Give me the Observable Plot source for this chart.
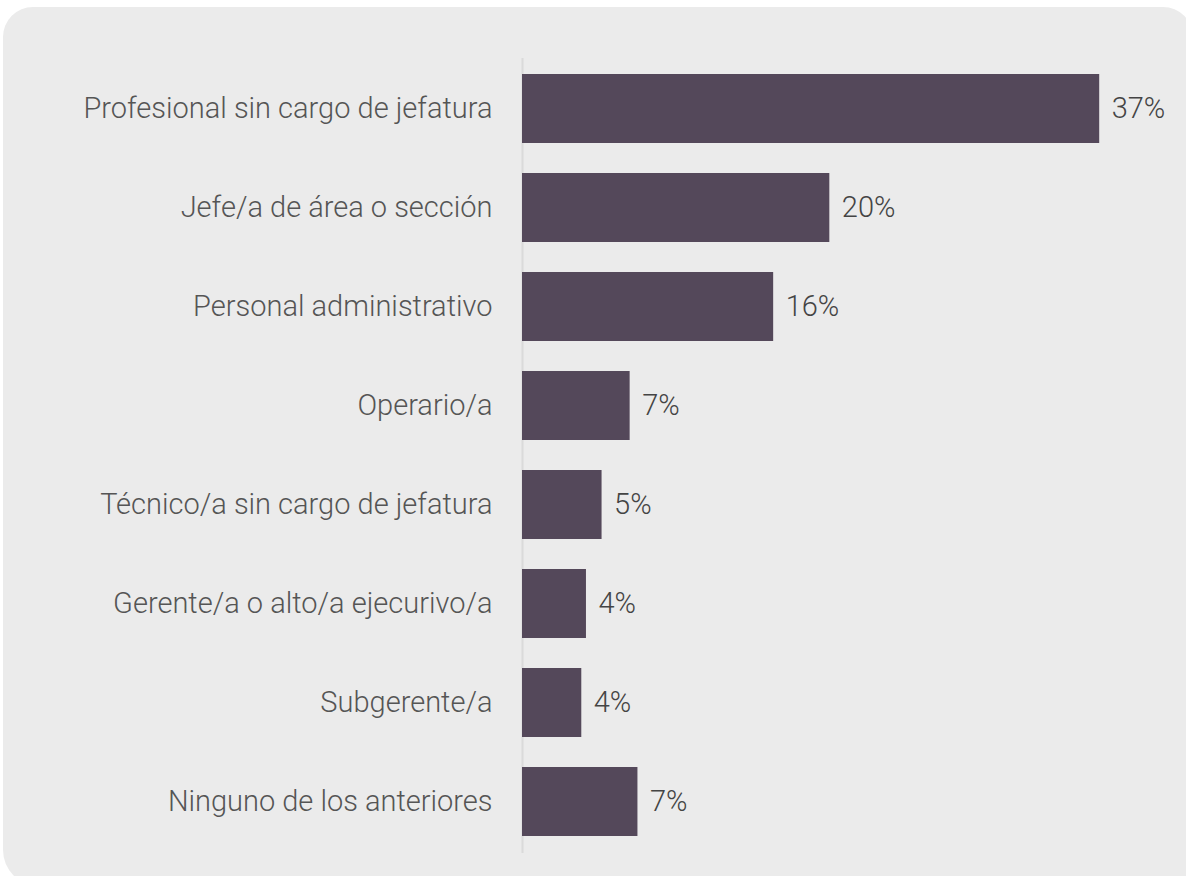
<!DOCTYPE html>
<html>
<head>
<meta charset="utf-8">
<script src="https://cdn.jsdelivr.net/npm/d3@7"></script>
<script src="https://cdn.jsdelivr.net/npm/@observablehq/plot@0.6"></script>
<style>
  html, body { margin: 0; padding: 0; background: #ffffff; }
  #wrap { position: relative; width: 1186px; height: 876px; overflow: hidden; }
  #panel { position: absolute; left: 3px; top: 7px; width: 1190px; height: 879px; background: #ebebeb; border-radius: 30px 30px 10px 36px; }
  #chart { position: absolute; left: 0; top: 0; }
</style>
</head>
<body>
<div id="wrap">
  <div id="panel"></div>
  <div id="chart"></div>
</div>
<script>
// Cargo actual de los encuestados (% de respuestas)
const categories = [
  "Profesional sin cargo de jefatura",
  "Jefe/a de área o sección",
  "Personal administrativo",
  "Operario/a",
  "Técnico/a sin cargo de jefatura",
  "Gerente/a o alto/a ejecurivo/a",
  "Subgerente/a",
  "Ninguno de los anteriores"
];
const shares = [37.0, 19.7, 16.1, 6.9, 5.1, 4.1, 3.8, 7.4];

const rows = categories.map((cargo, i) => ({ cargo, pct: shares[i] }));

const chart = Plot.plot({
  width: 1186,
  height: 876,
  marginTop: 58,
  marginBottom: 23,
  marginLeft: 522,
  marginRight: 40,
  style: { background: "transparent", fontFamily: "Roboto", fontSize: "29px", color: "#555555" },
  x: { domain: [0, 40], axis: null },
  y: { domain: categories, paddingInner: 0.3, paddingOuter: 0.15, label: null },
  marks: [
    Plot.ruleX([0], { stroke: "#dadada", strokeWidth: 2 }),
    Plot.barX(rows, { x: "pct", y: "cargo", fill: "#54485a" }),
    Plot.axisY({ tickSize: 0, tickPadding: 30, fontSize: 29, fontWeight: 300, fill: "#555555" }),
    Plot.text(rows, {
      x: "pct", y: "cargo",
      text: d => `${Math.round(d.pct)}%`,
      textAnchor: "start", dx: 12,
      fontSize: 29, fontWeight: 300, fill: "#444444"
    })
  ]
});
document.getElementById("chart").appendChild(chart);
</script>
</body>
</html>
